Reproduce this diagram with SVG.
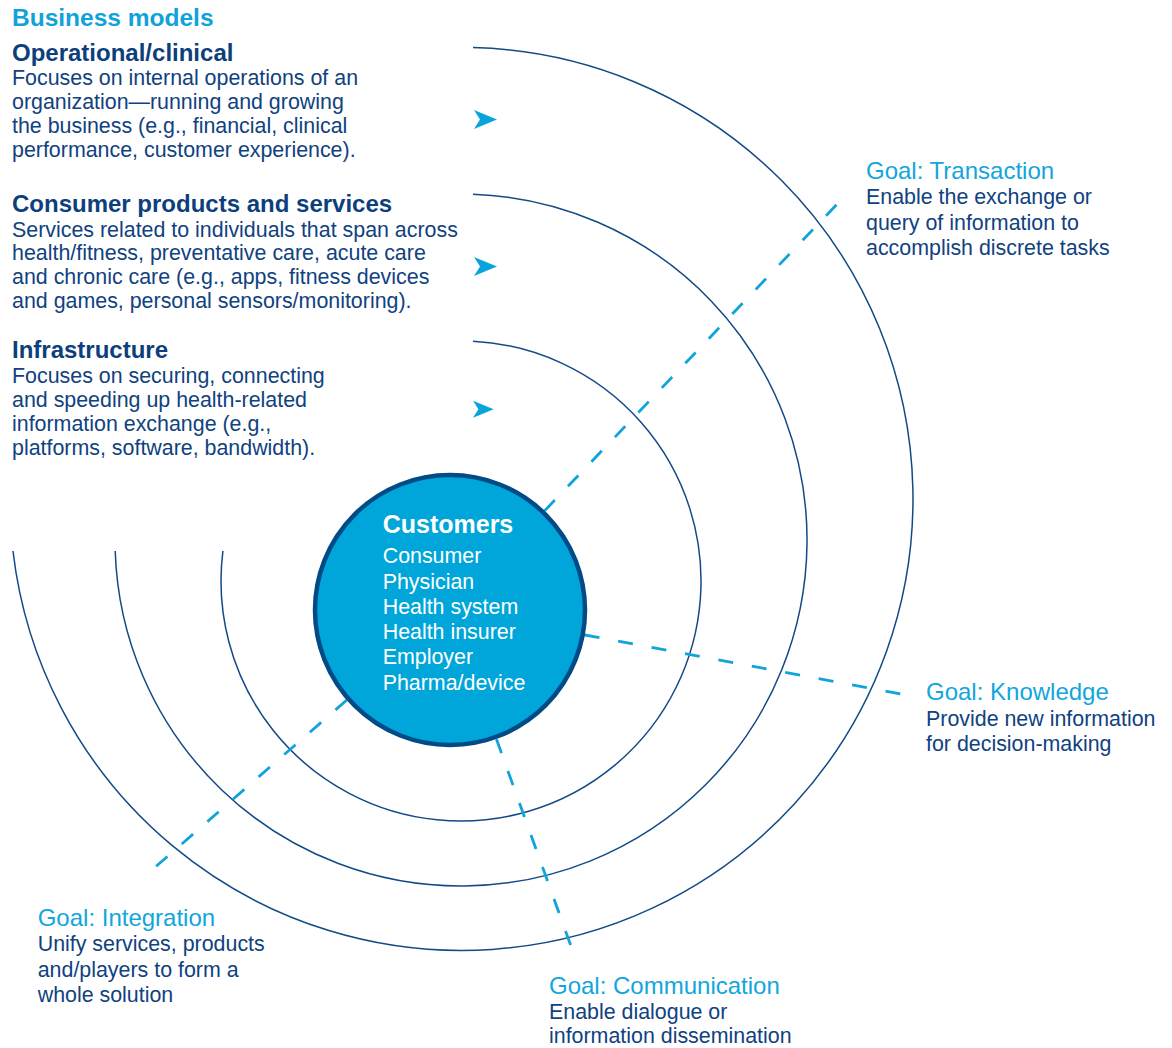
<svg xmlns="http://www.w3.org/2000/svg" width="1172" height="1048" viewBox="0 0 1172 1048">
  <style>
    text { font-family: "Liberation Sans", Arial, sans-serif; }
    .title { font-size: 24.5px; font-weight: bold; fill: #0fa3da; }
    .head { font-size: 24px; font-weight: bold; fill: #0d3f7c; }
    .body { font-size: 21.4px; fill: #0f427f; }
    .goal { font-size: 24px; fill: #12a6dc; }
    .ring { fill: none; stroke: #124a86; stroke-width: 1.5; }
    .dash { fill: none; stroke: #10a4db; stroke-width: 2.8; stroke-dasharray: 15 19; }
    .arrow { fill: #0aa4dc; }
    .cust { font-size: 21.4px; fill: #ffffff; }
    .custh { font-size: 25px; font-weight: bold; fill: #ffffff; }
  </style>
  <defs>
    <path id="chev" d="M0 -9.5 L23 0 L0 9.5 L6 0 Z"/>
  </defs>
  <rect width="1172" height="1048" fill="#ffffff"/>

  <g id="rings">
    <path class="ring" d="M473 47.6 A451.5 451.5 0 1 1 13 551"/>
    <path class="ring" d="M473 194.2 A346 346 0 1 1 115.2 551"/>
    <path class="ring" d="M473 341.3 A240 240 0 1 1 222.9 551"/>
  </g>

  <g id="connectors">
    <line class="dash" x1="544.5" y1="510.9" x2="842" y2="199"/>
    <line class="dash" x1="584.7" y1="635" x2="904" y2="694.5"/>
    <line class="dash" x1="496.4" y1="739" x2="572" y2="949"/>
    <line class="dash" x1="346.8" y1="700" x2="155.7" y2="866.7"/>
  </g>

  <g id="arrows">
    <use href="#chev" class="arrow" x="474" y="119.5"/>
    <use href="#chev" class="arrow" x="474" y="266.5"/>
    <use href="#chev" class="arrow" transform="translate(473 409.2) scale(0.9)"/>
  </g>

  <g id="business-models">
    <text class="title" x="12" y="26">Business models</text>
  </g>

  <g id="operational">
    <text class="head" x="12" y="61">Operational/clinical</text>
    <text class="body" x="12" y="85">Focuses on internal operations of an</text>
    <text class="body" x="12" y="109">organization—running and growing</text>
    <text class="body" x="12" y="133">the business (e.g., financial, clinical</text>
    <text class="body" x="12" y="157">performance, customer experience).</text>
  </g>

  <g id="consumer">
    <text class="head" x="12" y="211.7">Consumer products and services</text>
    <text class="body" x="12" y="236.5">Services related to individuals that span across</text>
    <text class="body" x="12" y="260.3">health/fitness, preventative care, acute care</text>
    <text class="body" x="12" y="284">and chronic care (e.g., apps, fitness devices</text>
    <text class="body" x="12" y="307.8">and games, personal sensors/monitoring).</text>
  </g>

  <g id="infrastructure">
    <text class="head" x="12" y="358.3">Infrastructure</text>
    <text class="body" x="12" y="383.3">Focuses on securing, connecting</text>
    <text class="body" x="12" y="407.3">and speeding up health-related</text>
    <text class="body" x="12" y="431">information exchange (e.g.,</text>
    <text class="body" x="12" y="454.5">platforms, software, bandwidth).</text>
  </g>

  <g id="customers">
    <circle cx="450" cy="610" r="135" fill="#00a6d9" stroke="#004a85" stroke-width="4.5"/>
    <text class="custh" x="382.7" y="533.3">Customers</text>
    <text class="cust" x="382.7" y="563.3">Consumer</text>
    <text class="cust" x="382.7" y="588.5">Physician</text>
    <text class="cust" x="382.7" y="614">Health system</text>
    <text class="cust" x="382.7" y="639">Health insurer</text>
    <text class="cust" x="382.7" y="664.3">Employer</text>
    <text class="cust" x="382.7" y="690">Pharma/device</text>
  </g>

  <g id="goal-transaction">
    <text class="goal" x="866" y="179.3">Goal: Transaction</text>
    <text class="body" x="866" y="204.3">Enable the exchange or</text>
    <text class="body" x="866" y="229.8">query of information to</text>
    <text class="body" x="866" y="254.8">accomplish discrete tasks</text>
  </g>

  <g id="goal-knowledge">
    <text class="goal" x="926" y="700.3">Goal: Knowledge</text>
    <text class="body" x="926" y="726">Provide new information</text>
    <text class="body" x="926" y="750.5">for decision-making</text>
  </g>

  <g id="goal-communication">
    <text class="goal" x="549" y="994">Goal: Communication</text>
    <text class="body" x="549" y="1018.5">Enable dialogue or</text>
    <text class="body" x="549" y="1042.8">information dissemination</text>
  </g>

  <g id="goal-integration">
    <text class="goal" x="37.7" y="925.7">Goal: Integration</text>
    <text class="body" x="37.7" y="950.9">Unify services, products</text>
    <text class="body" x="37.7" y="976.5">and/players to form a</text>
    <text class="body" x="37.7" y="1001.7">whole solution</text>
  </g>
</svg>
